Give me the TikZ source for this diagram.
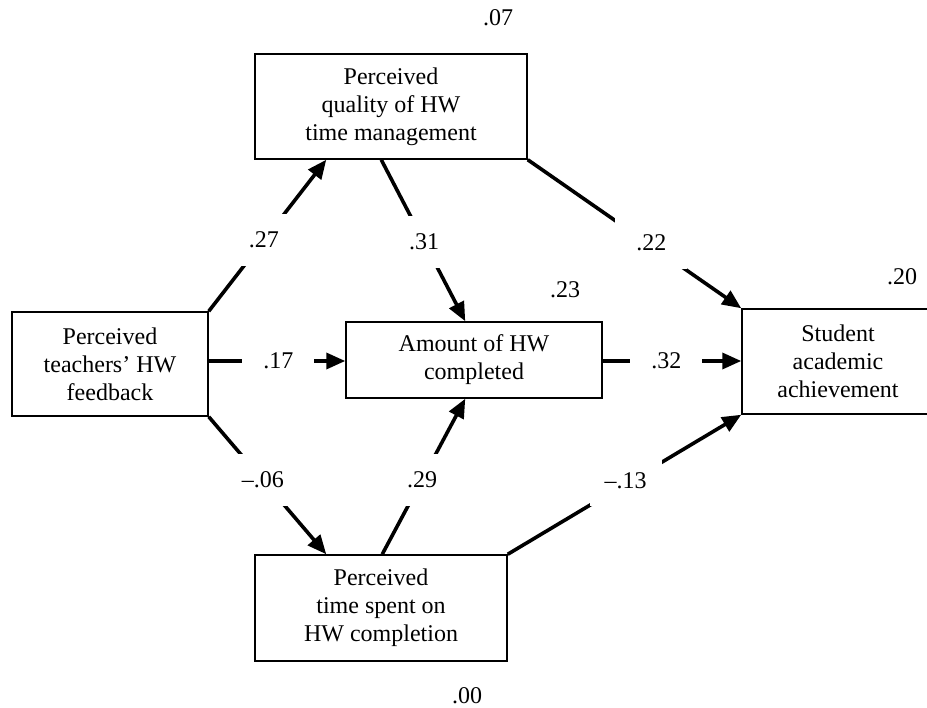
\documentclass[tikz,border=0pt]{standalone}
\usepackage{fontspec}
\setmainfont{Liberation Serif}
\usetikzlibrary{arrows.meta,calc}
\begin{document}
\begin{tikzpicture}[x=1pt,y=-1pt,
  every node/.style={font=\fontsize{24}{28}\selectfont},
  varbox/.style={draw, line width=1.5pt, rectangle, inner sep=0pt, align=center},
  path/.style={line width=3.6pt, -{Triangle[length=19pt,width=16pt]}},
  coef/.style={fill=white, inner sep=0pt, minimum width=72pt, minimum height=52pt},
  rsq/.style={inner sep=0pt}]
\useasboundingbox (0,0) rectangle (927,708);
\clip (0,0) rectangle (927,708);

% variables
\node[varbox, minimum width=196pt, minimum height=104pt] (fb) at (110,364)
  {Perceived\\teachers' HW\\feedback};
\node[varbox, minimum width=272pt, minimum height=105pt] (qual) at (391,106.5)
  {Perceived\\quality of HW\\time management};
\node[varbox, minimum width=256pt, minimum height=76pt] (amt) at (474,360)
  {Amount of HW\\completed};
\node[varbox, minimum width=252pt, minimum height=106pt] (time) at (381,608)
  {Perceived\\time spent on\\HW completion};
\node[varbox, minimum width=192pt, minimum height=105pt] (ach) at (838,361.5)
  {Student\\academic\\achievement};

% explained variance
\node[rsq] (r1) at (498,18) {.07};
\node[rsq] (r2) at (565,290) {.23};
\node[rsq] (r3) at (902,277) {.20};
\node[rsq] (r4) at (467,696) {.00};

% paths with coefficients
\draw[path] (fb.north east) -- ([xshift=72pt]qual.south west)
  node[coef, pos=0.47] {.27};
\draw[path] ([xshift=127pt]qual.south west) -- ([xshift=120pt]amt.north west)
  node[coef, pos=0.51] {.31};
\draw[path] (qual.south east) -- (ach.north west)
  node[coef, pos=0.56, xshift=4pt] {.22};
\draw[path] (fb.east |- 0,361) -- (amt.west |- 0,361)
  node[coef, pos=0.51] {.17};
\draw[path] (amt.east |- 0,361) -- (ach.west |- 0,361)
  node[coef, pos=0.46] {.32};
\draw[path] (fb.south east) -- ([xshift=72pt]time.north west)
  node[coef, pos=0.46] {--.06};
\draw[path] ([xshift=128pt]time.north west) -- ([xshift=120pt]amt.south west)
  node[coef, pos=0.48] {.29};
\draw[path] (time.north east) -- (ach.south west)
  node[coef, pos=0.53, xshift=-6pt] {--.13};
\end{tikzpicture}
\end{document}
